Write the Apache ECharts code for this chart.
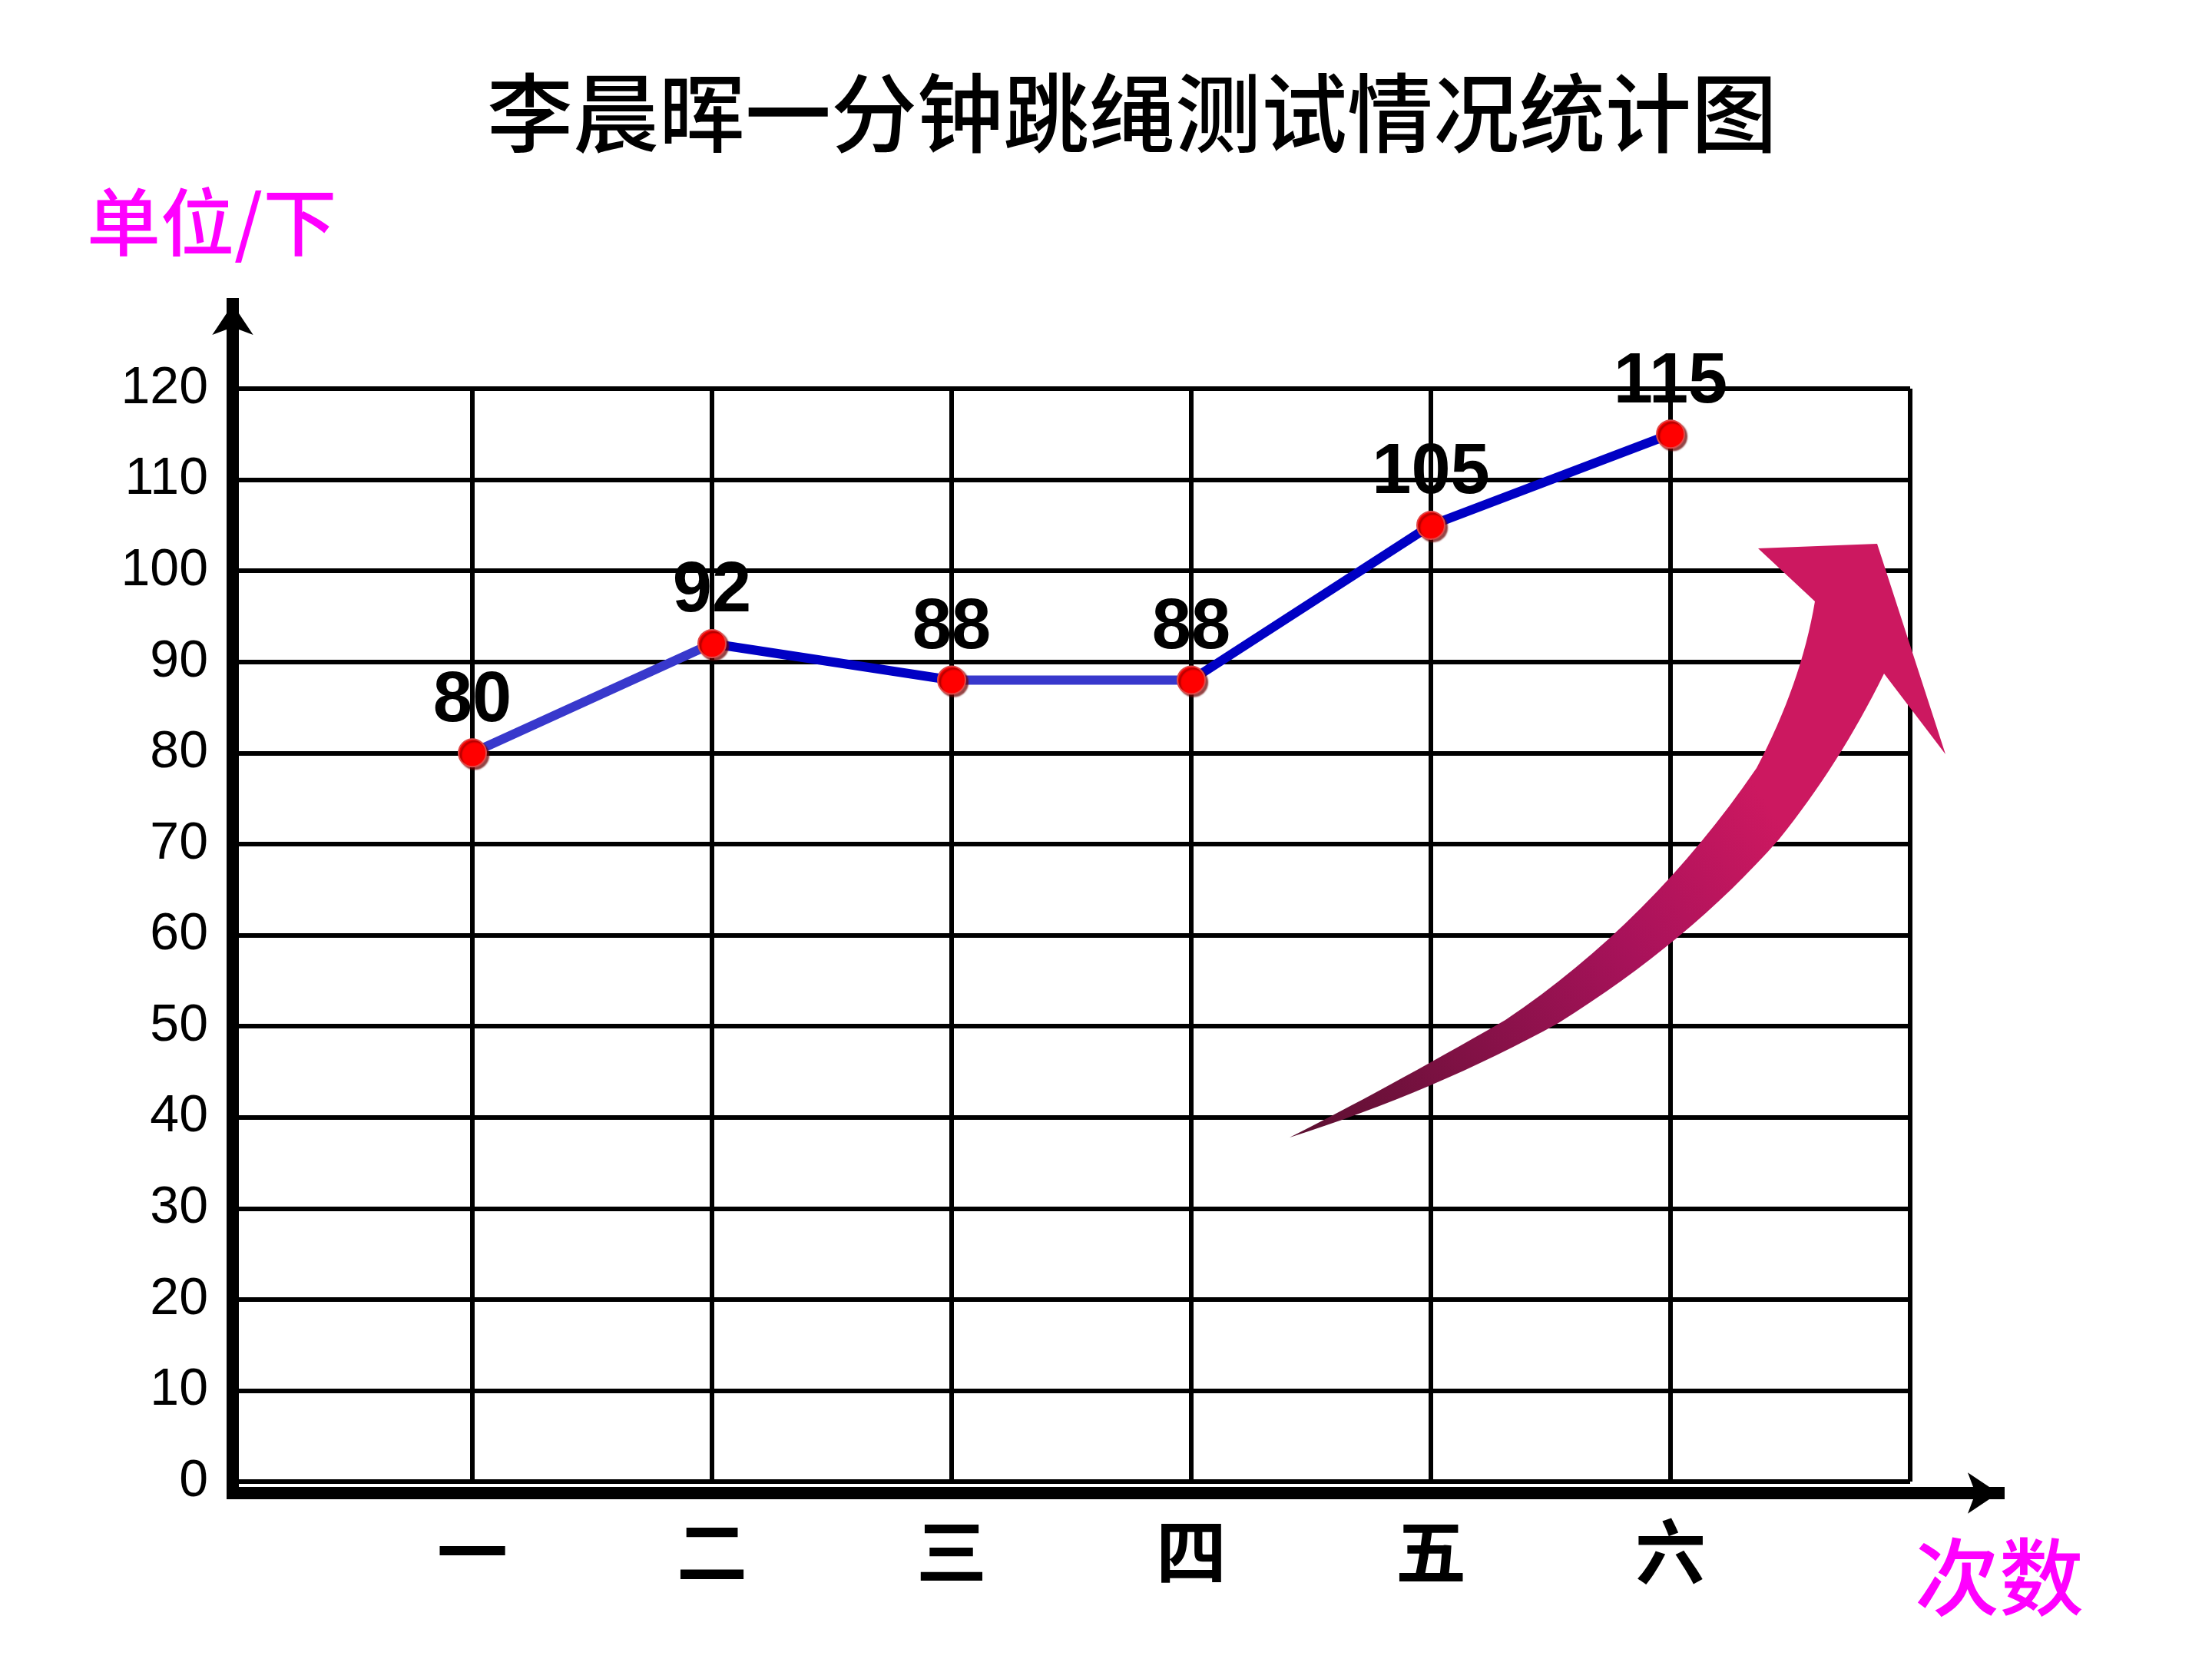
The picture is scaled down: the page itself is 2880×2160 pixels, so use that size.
<!DOCTYPE html>
<html>
<head>
<meta charset="utf-8">
<title>李晨晖一分钟跳绳测试情况统计图</title>
<script src="https://cdn.jsdelivr.net/npm/echarts@6/dist/echarts.min.js"></script>
<style>
  html, body { margin: 0; padding: 0; background: #fff; }
  #main { width: 2880px; height: 2160px; }
</style>
</head>
<body>
<div id="main"></div>
<script>
// 数据
var titleText = '李晨晖一分钟跳绳测试情况统计图';
var yUnit = '单位/下';
var xUnit = '次数';
var times = ['一', '二', '三', '四', '五', '六'];   // 测试次数
var scores = [80, 92, 88, 88, 105, 115];             // 每次跳绳个数
var yTicks = [0, 10, 20, 30, 40, 50, 60, 70, 80, 90, 100, 110, 120];

// x 轴用数值轴：0 和 7 是空白边界，1..6 对应次数
var points = times.map(function (t, i) { return [i + 1, scores[i]]; });

var black = '#000';

// 装饰箭头的轮廓：直线段 + 二次曲线段，曲线取点后组成多边形
var arrowOutline = [
  ['L', 2289, 714], ['L', 2444, 708], ['L', 2533, 982], ['L', 2453, 877],
  ['Q', 2395, 995, 2316, 1093], ['Q', 2200, 1225, 2029, 1332], ['Q', 1870, 1420, 1679, 1481],
  ['Q', 1800, 1420, 1960, 1328], ['Q', 2150, 1200, 2287, 1000], ['Q', 2345, 890, 2363, 783]
];
function outlineToPoints(list) {
  var pts = [], last = null;
  list.forEach(function (s) {
    if (s[0] === 'L') { last = [s[1], s[2]]; pts.push(last); return; }
    var cx = s[1], cy = s[2], ex = s[3], ey = s[4];
    for (var k = 1; k <= 16; k++) {
      var t = k / 16, u = 1 - t;
      pts.push([u * u * last[0] + 2 * u * t * cx + t * t * ex,
                u * u * last[1] + 2 * u * t * cy + t * t * ey]);
    }
    last = [ex, ey];
  });
  return pts;
}

var chart = echarts.init(document.getElementById('main'));

chart.setOption({
  animation: false,
  backgroundColor: '#fff',
  title: [
    { text: titleText, left: 629, top: 86,
      textStyle: { fontSize: 112, fontWeight: 500, color: black, fontFamily: 'Noto Sans CJK SC' } },
    { text: yUnit, left: 108, top: 236,
      textStyle: { fontSize: 96, fontWeight: 500, color: '#ff00ff', fontFamily: 'Noto Sans CJK SC' } },
    { text: xUnit, left: 2488, top: 1993,
      textStyle: { fontSize: 110, fontWeight: 500, color: '#ff00ff', fontFamily: 'Noto Sans CJK SC' } }
  ],
  grid: [
    // 网格
    { left: 303, right: 393, top: 506, bottom: 231 },
    // 带箭头的坐标轴
    { left: 303, right: 278, top: 396, bottom: 216 }
  ],
  xAxis: [
    {
      type: 'value', gridIndex: 0, min: 0, max: times.length + 1, interval: 1,
      axisLine: { show: false }, axisTick: { show: false },
      splitLine: { show: true, lineStyle: { color: black, width: 6 } },
      axisLabel: {
        margin: 45, fontSize: 92, fontWeight: 'bold', color: black,
        fontFamily: 'Noto Sans CJK SC',
        formatter: function (v) { return times[v - 1] || ''; }
      }
    },
    {
      type: 'value', gridIndex: 1, min: 0, max: 1,
      axisLine: { show: true, symbol: ['none', 'arrow'], symbolSize: [40, 40],
        lineStyle: { color: black, width: 16, cap: 'square' } },
      axisTick: { show: false }, axisLabel: { show: false }, splitLine: { show: false }
    }
  ],
  yAxis: [
    {
      type: 'value', gridIndex: 0, min: yTicks[0], max: yTicks[yTicks.length - 1], interval: 10,
      axisLine: { show: false }, axisTick: { show: false },
      splitLine: { show: true, lineStyle: { color: black, width: 6 } },
      axisLabel: {
        margin: 32, fontSize: 68, fontWeight: 500, color: black,
        fontFamily: '"Liberation Sans Narrow", "Liberation Sans", sans-serif'
      }
    },
    {
      type: 'value', gridIndex: 1, min: 0, max: 1,
      axisLine: { show: true, symbol: ['none', 'arrow'], symbolSize: [40, 40],
        lineStyle: { color: black, width: 16, cap: 'square' } },
      axisTick: { show: false }, axisLabel: { show: false }, splitLine: { show: false }
    }
  ],
  graphic: [
    {
      // 装饰用的上升箭头
      type: 'polygon', z: 10, silent: true,
      shape: { points: outlineToPoints(arrowOutline) },
      style: {
        fill: {
          type: 'linear', x: 0, y: 1, x2: 1, y2: 0.3,
          colorStops: [
            { offset: 0, color: '#5a1030' },
            { offset: 0.5, color: '#a8125a' },
            { offset: 0.75, color: '#cc1860' },
            { offset: 1, color: '#cc1860' }
          ]
        }
      }
    }
  ],
  series: [
    {
      type: 'line', xAxisIndex: 0, yAxisIndex: 0,
      data: points, z: 3,
      lineStyle: {
        width: 12,
        color: {
          type: 'linear', x: 0, y: 0, x2: 1, y2: 0,
          colorStops: [
            { offset: 0, color: '#3838cc' }, { offset: 0.2, color: '#3838cc' },
            { offset: 0.2, color: '#0000c4' }, { offset: 0.4, color: '#0000c4' },
            { offset: 0.4, color: '#3838cc' }, { offset: 0.6, color: '#3838cc' },
            { offset: 0.6, color: '#0000c4' }, { offset: 1, color: '#0000c4' }
          ]
        }
      },
      symbol: 'circle', symbolSize: 36,
      itemStyle: {
        color: '#ff0000', borderColor: '#e04848', borderWidth: 2,
        shadowColor: 'rgba(110,0,0,0.7)', shadowBlur: 2, shadowOffsetX: 3, shadowOffsetY: 3
      },
      label: {
        show: true, position: 'top', distance: 2,
        fontSize: 92, fontWeight: 'bold', color: black,
        fontFamily: '"Liberation Sans", Arial, sans-serif'
      },
      emphasis: { disabled: true }
    }
  ]
});
</script>
</body>
</html>
